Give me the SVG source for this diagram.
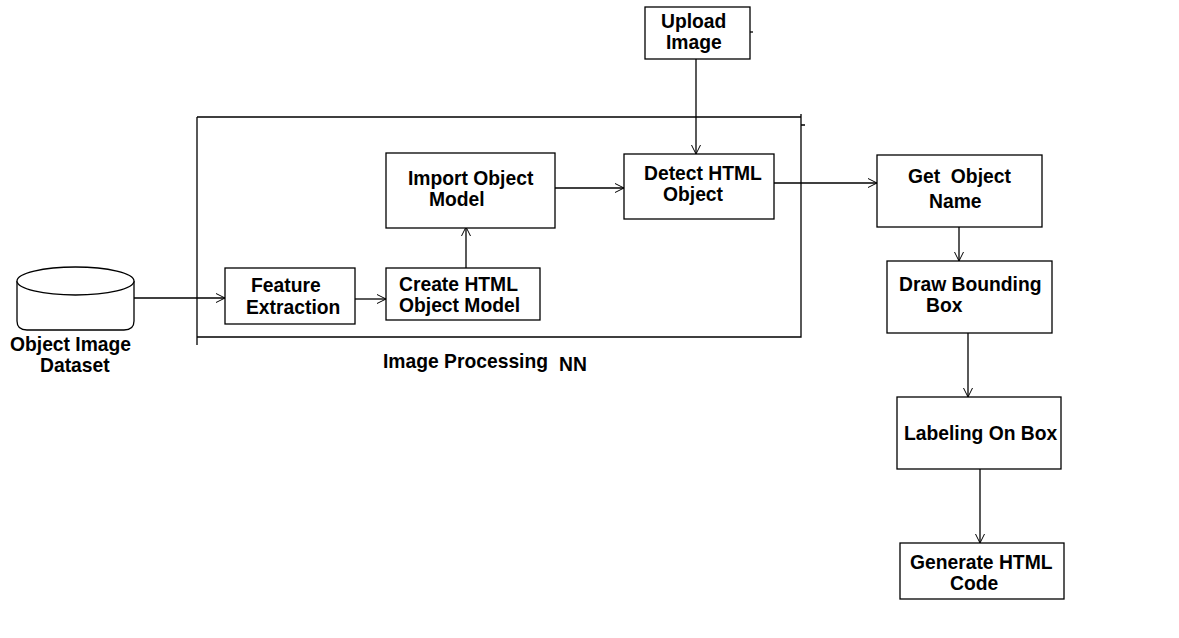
<svg xmlns="http://www.w3.org/2000/svg" width="1179" height="638" viewBox="0 0 1179 638">
<style>
.box{fill:#fff;stroke:#000;stroke-width:1.3}
.ln{fill:none;stroke:#000;stroke-width:1.3}
.t{font-family:"Liberation Sans",Arial,sans-serif;font-weight:bold;font-size:19.3px;fill:#000}
</style>
<defs>
<marker id="arr" markerUnits="userSpaceOnUse" markerWidth="11" markerHeight="11" refX="9" refY="5" orient="auto">
<path d="M0,0.5 L9,5 L0,9.5" fill="none" stroke="#000" stroke-width="1"/>
</marker>
</defs>
<rect width="1179" height="638" fill="#fff"/>

<g id="container">
<path class="ln" d="M197,117 H801 V337 H197 M197,117 V345 M801,114 V130 M801,125 H805"/>
<text class="t" x="383" y="368">Image Processing</text>
<text class="t" x="559" y="371">NN</text>
</g>

<g id="connectors">
<path class="ln" d="M134,298 H225" marker-end="url(#arr)"/>
<path class="ln" d="M355,299 H386" marker-end="url(#arr)"/>
<path class="ln" d="M466,268 V227" marker-end="url(#arr)"/>
<path class="ln" d="M555,188 H624" marker-end="url(#arr)"/>
<path class="ln" d="M696,59 V154" marker-end="url(#arr)"/>
<path class="ln" d="M774,183 H877" marker-end="url(#arr)"/>
<path class="ln" d="M959,227 V261" marker-end="url(#arr)"/>
<path class="ln" d="M968,333 V397" marker-end="url(#arr)"/>
<path class="ln" d="M980,469 V543" marker-end="url(#arr)"/>
</g>

<g id="dataset">
<path class="box" d="M17,281 V321 Q17,330 27,330 H124 Q134,330 134,321 V281"/>
<ellipse class="box" cx="75.5" cy="281" rx="58.5" ry="14"/>
<text class="t" x="10" y="351">Object Image</text>
<text class="t" x="40" y="372">Dataset</text>
</g>

<g id="feature">
<rect class="box" x="225" y="268" width="130" height="56"/>
<text class="t" x="251" y="292">Feature</text>
<text class="t" x="246" y="314">Extraction</text>
</g>

<g id="create">
<rect class="box" x="386" y="268" width="154" height="52"/>
<text class="t" x="399" y="291">Create HTML</text>
<text class="t" x="399" y="312">Object Model</text>
</g>

<g id="import">
<rect class="box" x="386" y="153" width="169" height="75"/>
<text class="t" x="408" y="185">Import Object</text>
<text class="t" x="429" y="206">Model</text>
</g>

<g id="detect">
<rect class="box" x="624" y="154" width="150" height="65"/>
<text class="t" x="644" y="180">Detect HTML</text>
<text class="t" x="663" y="201">Object</text>
</g>

<g id="upload">
<rect class="box" x="645" y="7" width="105" height="52"/>
<path class="ln" d="M750,32 H753"/>
<text class="t" x="661" y="28">Upload</text>
<text class="t" x="666" y="49">Image</text>
</g>

<g id="getname">
<rect class="box" x="877" y="155" width="165" height="72"/>
<text class="t" x="908" y="183" xml:space="preserve">Get  Object</text>
<text class="t" x="929" y="208">Name</text>
</g>

<g id="draw">
<rect class="box" x="887" y="261" width="165" height="72"/>
<text class="t" x="899" y="291">Draw Bounding</text>
<text class="t" x="926" y="312">Box</text>
</g>

<g id="labeling">
<rect class="box" x="897" y="397" width="164" height="72"/>
<text class="t" x="904" y="440">Labeling On Box</text>
</g>

<g id="generate">
<rect class="box" x="900" y="543" width="164" height="56"/>
<text class="t" x="910" y="569">Generate HTML</text>
<text class="t" x="950" y="590">Code</text>
</g>
</svg>
